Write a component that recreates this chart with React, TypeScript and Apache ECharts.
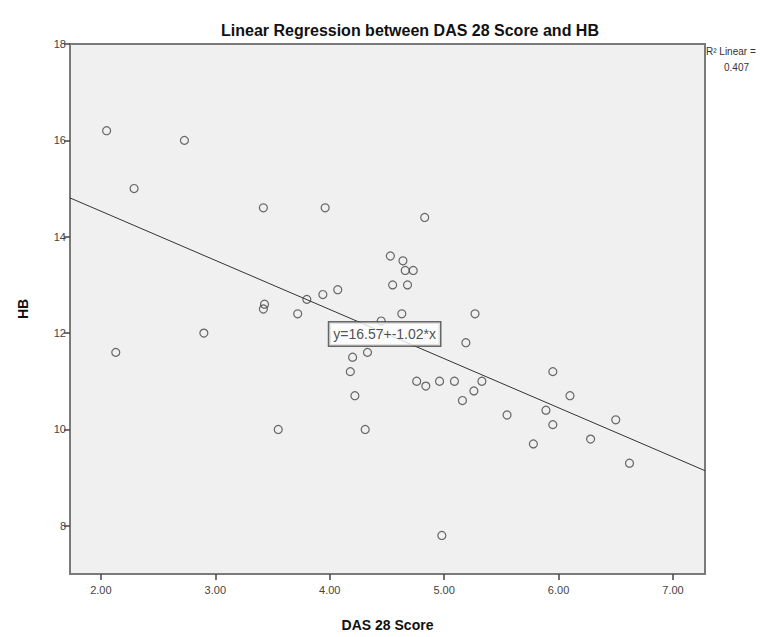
import React, { useEffect, useRef } from "react";
import * as echarts from "echarts";

const TITLE = "Linear Regression between DAS 28 Score and HB";
const X_NAME = "DAS 28 Score";
const Y_NAME = "HB";
const X_TICKS = [2, 3, 4, 5, 6, 7];
const Y_TICKS = [8, 10, 12, 14, 16, 18];
const X_RANGE = [1.73, 7.28];
const Y_RANGE = [7, 18];
const INTERCEPT = 16.57;
const SLOPE = -1.02;
const R2 = "0.407";
const EQUATION = "y=16.57+-1.02*x";
const EQUATION_POS = [4.48, 11.98];

const DAS28 = [
  2.05, 2.73, 2.29, 3.42, 3.96, 4.83, 4.53, 4.64, 4.66, 4.73, 4.55, 4.68,
  4.07, 3.94, 3.8, 3.43, 3.42, 3.72, 4.63, 5.27, 4.45, 5.19, 4.33, 4.2,
  4.18, 5.95, 4.76, 4.84, 4.96, 5.09, 5.33, 5.26, 5.16, 4.22, 5.55, 5.89,
  5.95, 5.78, 4.31, 2.13, 2.9, 3.55, 6.1, 6.28, 6.5, 6.62, 4.98,
];
const HB = [
  16.2, 16.0, 15.0, 14.6, 14.6, 14.4, 13.6, 13.5, 13.3, 13.3, 13.0, 13.0,
  12.9, 12.8, 12.7, 12.6, 12.5, 12.4, 12.4, 12.4, 12.25, 11.8, 11.6, 11.5,
  11.2, 11.2, 11.0, 10.9, 11.0, 11.0, 11.0, 10.8, 10.6, 10.7, 10.3, 10.4,
  10.1, 9.7, 10.0, 11.6, 12.0, 10.0, 10.7, 9.8, 10.2, 9.3, 7.8,
];

export default function App() {
  const ref = useRef<HTMLDivElement>(null);
  useEffect(() => {
    if (!ref.current) return;
    const chart = echarts.init(ref.current, undefined, { renderer: "svg" });
    const font = "Arial, 'Liberation Sans', sans-serif";
    const points = DAS28.map((x, i) => [x, HB[i]]);
    const fitLine = X_RANGE.map((x) => [x, INTERCEPT + SLOPE * x]);
    chart.setOption({
      animation: false,
      backgroundColor: "#ffffff",
      title: {
        text: TITLE,
        left: 405,
        textAlign: "center",
        top: 17,
        textStyle: { fontFamily: font, fontSize: 16, fontWeight: "bold", color: "#111" },
      },
      grid: {
        left: 70,
        top: 44,
        right: 71,
        bottom: 59,
        show: true,
        backgroundColor: "#f0f0f0",
        borderColor: "#7a7a7a",
        borderWidth: 2,
      },
      xAxis: {
        type: "value",
        min: X_RANGE[0],
        max: X_RANGE[1],
        name: X_NAME,
        nameLocation: "middle",
        nameGap: 44,
        nameTextStyle: { fontFamily: font, fontSize: 14, fontWeight: "bold", color: "#111" },
        axisLine: { show: true, lineStyle: { color: "#7a7a7a", width: 2 } },
        axisTick: {
          show: true,
          length: 6,
          customValues: X_TICKS,
          lineStyle: { color: "#444", width: 1.5 },
        },
        axisLabel: {
          customValues: X_TICKS,
          formatter: (v: number) => v.toFixed(2),
          fontFamily: font,
          fontSize: 11,
          color: "#444",
          margin: 10,
        },
        splitLine: { show: false },
      },
      yAxis: {
        type: "value",
        min: Y_RANGE[0],
        max: Y_RANGE[1],
        name: Y_NAME,
        nameLocation: "middle",
        nameGap: 40,
        nameTextStyle: { fontFamily: font, fontSize: 14, fontWeight: "bold", color: "#111" },
        axisLine: { show: true, lineStyle: { color: "#7a7a7a", width: 2 } },
        axisTick: {
          show: true,
          length: 6,
          customValues: Y_TICKS,
          lineStyle: { color: "#444", width: 1.5 },
        },
        axisLabel: {
          customValues: Y_TICKS,
          fontFamily: font,
          fontSize: 11,
          color: "#444",
          margin: 4,
        },
        splitLine: { show: false },
      },
      series: [
        {
          type: "line",
          data: fitLine,
          symbol: "none",
          lineStyle: { color: "#333", width: 1 },
          z: 2,
        },
        {
          type: "scatter",
          data: points,
          symbol: "circle",
          symbolSize: 8,
          itemStyle: { color: "rgba(0,0,0,0)", borderColor: "#444", borderWidth: 1.2 },
          z: 3,
        },
        {
          type: "scatter",
          data: [EQUATION_POS],
          symbolSize: 0,
          z: 5,
          label: {
            show: true,
            position: "inside",
            formatter: EQUATION,
            fontFamily: font,
            fontSize: 14,
            color: "#222",
            backgroundColor: "#ffffff",
            borderColor: "#444",
            borderWidth: 1.5,
            padding: [5, 4, 4, 4],
          },
        },
      ],
      graphic: [
        {
          type: "text",
          left: 706,
          top: 46,
          style: { text: "R² Linear =", fontFamily: font, fontSize: 10, fill: "#333" },
        },
        {
          type: "text",
          left: 724,
          top: 62,
          style: { text: R2, fontFamily: font, fontSize: 10, fill: "#333" },
        },
      ],
    });
    return () => chart.dispose();
  }, []);
  return (
    <div
      ref={ref}
      style={{ position: "fixed", left: 0, top: 0, width: 776, height: 637 }}
    />
  );
}
